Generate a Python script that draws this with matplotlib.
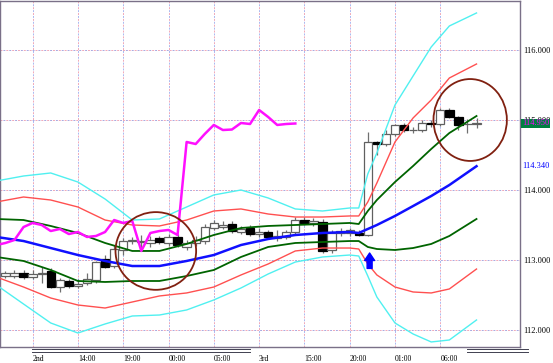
import matplotlib
matplotlib.use("Agg")
import matplotlib.pyplot as plt
from matplotlib.patches import Ellipse
from matplotlib.transforms import blended_transform_factory

# hourly candles, bar index 0..52
opens = [112.771, 112.771, 112.814, 112.757, 112.800, 112.843, 112.614, 112.700, 112.629, 112.671,
         112.714, 113.014, 112.914, 113.143, 113.271, 113.257, 113.243, 113.314, 113.243, 113.329,
         113.186, 113.243, 113.271, 113.457, 113.471, 113.514, 113.400, 113.457, 113.371, 113.400,
         113.314, 113.329, 113.400, 113.571, 113.529, 113.543, 113.143, 113.386, 113.386, 113.386,
         113.357, 114.686, 114.657, 114.800, 114.929, 114.857, 114.857, 114.957, 114.943, 115.143,
         115.043, 114.943, 114.943]
highs = [112.843, 112.857, 112.857, 112.857, 112.900, 112.886, 112.743, 112.729, 112.729, 112.814,
         112.986, 113.071, 113.214, 113.314, 113.329, 113.357, 113.343, 113.343, 113.371, 113.371,
         113.286, 113.343, 113.514, 113.571, 113.557, 113.557, 113.486, 113.500, 113.457, 113.429,
         113.429, 113.429, 113.614, 113.614, 113.600, 113.586, 113.429, 113.457, 113.457, 113.429,
         114.829, 114.700, 114.857, 114.943, 114.957, 114.900, 115.000, 115.000, 115.171, 115.171,
         115.057, 115.014, 115.029]
lows = [112.743, 112.743, 112.729, 112.729, 112.671, 112.600, 112.543, 112.600, 112.600, 112.643,
        112.671, 112.886, 112.886, 113.071, 113.229, 113.143, 113.186, 113.229, 113.200, 113.186,
        113.143, 113.200, 113.229, 113.429, 113.443, 113.386, 113.371, 113.343, 113.329, 113.300,
        113.271, 113.300, 113.371, 113.500, 113.486, 113.100, 113.100, 113.343, 113.343, 113.343,
        113.343, 114.500, 114.629, 114.771, 114.829, 114.814, 114.829, 114.900, 114.914, 115.029,
        114.857, 114.814, 114.886]
closes = [112.814, 112.814, 112.757, 112.800, 112.814, 112.614, 112.714, 112.629, 112.657, 112.729,
          112.971, 112.900, 113.157, 113.271, 113.286, 113.271, 113.286, 113.257, 113.329, 113.214,
          113.243, 113.286, 113.471, 113.529, 113.500, 113.414, 113.443, 113.371, 113.400, 113.329,
          113.343, 113.400, 113.571, 113.529, 113.557, 113.129, 113.386, 113.414, 113.429, 113.357,
          114.686, 114.657, 114.800, 114.929, 114.857, 114.864, 114.957, 114.943, 115.143, 115.043,
          114.929, 114.943, 114.950]
chikou_shift = 20

# bollinger bands, read at these bar positions
band_x = [-1, 2, 5, 8, 11, 14, 17, 20, 23, 26, 29, 32, 35, 38, 39, 40, 41, 43, 45, 47, 49, 52]
mid = [113.329, 113.271, 113.171, 113.071, 112.986, 112.914, 112.914, 112.986, 113.071, 113.214, 113.300,
       113.357, 113.386, 113.400, 113.386, 113.443, 113.500, 113.629, 113.771, 113.914, 114.071, 114.340]
up1 = [113.586, 113.571, 113.486, 113.386, 113.243, 113.129, 113.129, 113.229, 113.357, 113.457, 113.486,
       113.500, 113.514, 113.529, 113.514, 113.700, 113.857, 114.114, 114.343, 114.586, 114.814, 115.057]
lo1 = [113.043, 112.986, 112.857, 112.700, 112.686, 112.700, 112.700, 112.771, 112.857, 113.043, 113.186,
       113.243, 113.257, 113.271, 113.271, 113.186, 113.157, 113.143, 113.171, 113.229, 113.343, 113.586]
up2 = [113.829, 113.900, 113.857, 113.757, 113.571, 113.500, 113.486, 113.571, 113.700, 113.729, 113.657,
       113.614, 113.614, 113.629, 113.629, 113.829, 114.100, 114.686, 115.029, 115.286, 115.600, 115.800]
lo2 = [112.757, 112.614, 112.457, 112.357, 112.314, 112.400, 112.486, 112.529, 112.614, 112.786, 112.943,
       113.129, 113.171, 113.171, 113.157, 112.943, 112.786, 112.614, 112.543, 112.529, 112.586, 112.871]
up3 = [114.129, 114.200, 114.243, 114.114, 113.871, 113.571, 113.586, 113.757, 113.929, 114.000, 113.886,
       113.729, 113.700, 113.743, 113.743, 114.229, 114.529, 115.214, 115.629, 116.043, 116.343, 116.529]
lo3 = [112.643, 112.371, 112.100, 111.957, 112.086, 112.200, 112.214, 112.286, 112.429, 112.600, 112.800,
       112.971, 113.043, 113.071, 113.057, 112.771, 112.471, 112.100, 111.943, 111.829, 111.857, 112.143]

# axis labels
tick_bars = [3, 8, 13, 18, 23, 28, 33, 38, 43, 48]
tick_labels = ["2nd", "14:00", "19:00", "00:00", "05:00", "3rd", "15:00", "20:00", "01:00", "06:00"]
price_ticks = [112, 113, 114, 115, 116]
day_spans = [(2.9, 27.0), (51.0, 57.7)]

# annotations: circles (bar, price, width in bars, height in price) and arrow
circles = [(16.6, 113.129, 8.9, 1.11), (51.3, 115.0, 8.1, 1.17)]
arrow_bar, arrow_from, arrow_to = 40.2, 112.88, 113.10

fig = plt.figure(figsize=(5.53, 3.63), dpi=100)
ax = fig.add_axes([0, 16 / 363, 520 / 553, 346 / 363])
ax.set_xlim(-0.6, 56.8)
ax.set_ylim(111.757, 116.7)
font = "Liberation Serif"

# grid: two-colour dotted lines
for b in tick_bars:
    ax.axvline(b, color="#f0a8b8", lw=0.7, ls=(0, (2, 4)), zorder=0)
    ax.axvline(b, color="#a8b8f0", lw=0.7, ls=(3, (2, 4)), zorder=0)
for p in price_ticks:
    ax.axhline(p, color="#f0a8b8", lw=0.7, ls=(0, (2, 4)), zorder=0)
    ax.axhline(p, color="#a8a8e0", lw=0.7, ls=(3, (2, 4)), zorder=0)

# candles
idx = list(range(len(closes)))
ax.vlines(idx, lows, highs, color="#707070", lw=0.9, zorder=2)
for i in idx:
    o, c = opens[i], closes[i]
    up = c >= o
    ax.bar(i, abs(c - o), bottom=min(o, c), width=0.92,
           color="white" if up else "black",
           edgecolor="#606060" if up else "black", lw=0.9, zorder=3)

# bands
ax.plot(band_x, up3, color="#50f0f0", lw=1.0, zorder=4)
ax.plot(band_x, lo3, color="#50f0f0", lw=1.0, zorder=4)
ax.plot(band_x, up2, color="#ff5050", lw=1.0, zorder=4)
ax.plot(band_x, lo2, color="#ff5050", lw=1.0, zorder=4)
ax.plot(band_x, up1, color="#006400", lw=1.3, zorder=4)
ax.plot(band_x, lo1, color="#006400", lw=1.3, zorder=4)
ax.plot(band_x, mid, color="#1010ff", lw=1.8, zorder=4)

# lagging span
ax.plot([i - chikou_shift for i in idx[chikou_shift - 1:]], closes[chikou_shift - 1:],
        color="#ff10ff", lw=1.8, zorder=5)

for cx, cy, w, h in circles:
    ax.add_patch(Ellipse((cx, cy), w, h, fill=False, edgecolor="#802010", lw=1.3, zorder=6))

ax.annotate("", xy=(arrow_bar, arrow_to), xytext=(arrow_bar, arrow_from),
            arrowprops=dict(arrowstyle="simple,head_width=0.8,head_length=0.6,tail_width=0.4",
                            color="#0000ff", mutation_scale=9, shrinkA=0, shrinkB=0), zorder=6)

# axes styling
for s in ax.spines.values():
    s.set_color("#7a7088")
    s.set_linewidth(1.0)
ax.set_xticks(tick_bars)
ax.set_xticklabels(tick_labels, ha="left", fontsize=5.6, family=font)
ax.tick_params(axis="x", length=0, pad=6)
ax.yaxis.tick_right()
ax.set_yticks(price_ticks)
ax.set_yticklabels([f"{p:.3f}" for p in price_ticks], fontsize=6, family=font)
ax.tick_params(axis="y", length=0, pad=2)

# double lines under the axis
trans = blended_transform_factory(ax.transData, ax.transAxes)
for x0, x1 in day_spans:
    for yy in (-0.007, -0.014):
        ax.plot([x0, x1], [yy, yy], color="#404050", lw=0.7, transform=trans, clip_on=False)

# last values on the price scale
ylo, yhi = ax.get_ylim()
ax.text(1.004, (mid[-1] - ylo) / (yhi - ylo), f"{mid[-1]:.3f}", transform=ax.transAxes,
        color="#0000ff", fontsize=6, family=font, va="center", ha="left")
ax.text(1.004, (closes[-1] - ylo) / (yhi - ylo), f"{closes[-1]:.3f}", transform=ax.transAxes,
        color="#ff00ff", fontsize=6, family=font, va="center", ha="left",
        bbox=dict(boxstyle="square,pad=0.1", fc="#008040", ec="none"))

fig.savefig("out.png", dpi=100)
